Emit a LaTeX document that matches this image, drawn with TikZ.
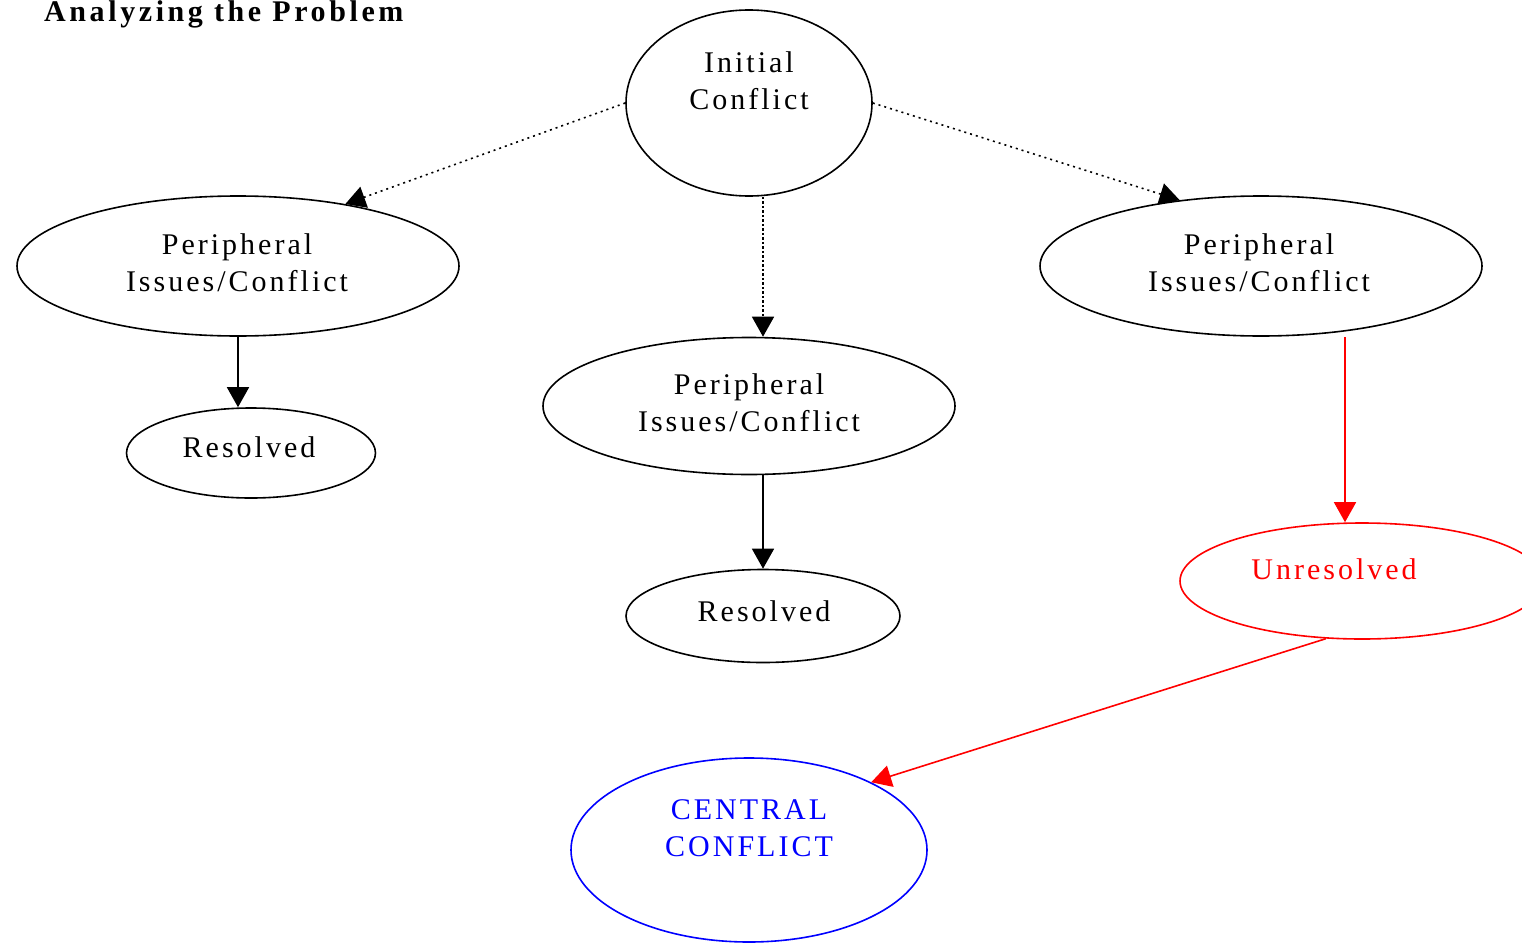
\documentclass[tikz,border=0pt]{standalone}
\usepackage{fontspec}
\setmainfont{Liberation Serif}[LetterSpace=10]
\usetikzlibrary{shapes.geometric,arrows.meta}
\begin{document}
\begin{tikzpicture}[x=1pt,y=-1pt,
  ell/.style={ellipse,draw,line width=1.6pt,inner sep=0pt},
  lbl/.style={font=\fontsize{30}{37}\selectfont,align=center,inner sep=0pt},
  arr/.style={line width=1.6pt,-{Triangle[length=20pt,width=22pt]}},
  dots/.style={dash pattern=on 2pt off 4pt},
  densedots/.style={dash pattern=on 2.5pt off 2pt}
]
\useasboundingbox (0,0) rectangle (1522,942);
\clip (0,0) rectangle (1522,942);

% title
\node[anchor=base west,inner sep=0pt,font=\fontsize{30}{36}\selectfont\bfseries\addfontfeatures{LetterSpace=12}] (title) at (44,22) {Analyzing the Problem};

% ellipses
\node[ell,minimum width=246pt,minimum height=186pt] (init) at (749,103) {};
\node[ell,minimum width=442pt,minimum height=140pt] (lp) at (238,266) {};
\node[ell,minimum width=412pt,minimum height=137pt] (mp) at (749,406) {};
\node[ell,minimum width=442pt,minimum height=140pt] (rp) at (1261,266) {};
\node[ell,minimum width=249pt,minimum height=90pt] (res1) at (251,453) {};
\node[ell,minimum width=274pt,minimum height=93pt] (res2) at (763,616) {};
\node[ell,draw=red,minimum width=364pt,minimum height=116pt] (unr) at (1362,581) {};
\node[ell,draw=blue,minimum width=356pt,minimum height=184pt] (cc) at (749,850) {};

% labels
\node[lbl] (initT) at (749,81) {Initial\\Conflict};
\node[lbl] (lpT) at (237,263) {Peripheral\\Issues/Conflict};
\node[lbl] (mpT) at (749,403) {Peripheral\\Issues/Conflict};
\node[lbl] (rpT) at (1259,263) {Peripheral\\Issues/Conflict};
\node[lbl] (res1T) at (249,447) {Resolved};
\node[lbl] (res2T) at (764,611) {Resolved};
\node[lbl,text=red] (unrT) at (1334,569) {Unresolved};
\node[lbl,text=blue] (ccT) at (749,828) {CENTRAL\\CONFLICT};

% connectors
\draw[arr,dots] (init.west) -- (lp.30);
\draw[arr,dots] (init.east) -- (rp.141);
\draw[arr,densedots] ([xshift=14pt]init.south) -- ([xshift=14pt]mp.north);
\draw[arr] (lp.south) -- (lp.south |- res1.north);
\draw[arr] ([xshift=14pt]mp.south) -- (res2.north);
\draw[arr,red] ([xshift=-17pt]unr.north |- rp.south) -- ([xshift=-17pt]unr.north);
\draw[arr,red] (unr.-122) -- (cc.29);
\end{tikzpicture}
\end{document}
